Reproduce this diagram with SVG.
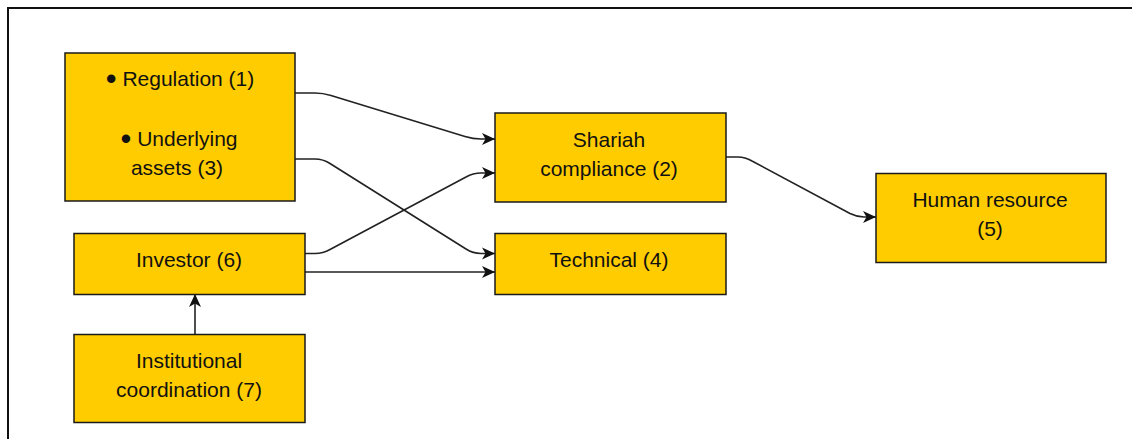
<svg xmlns="http://www.w3.org/2000/svg" width="1132" height="439" viewBox="0 0 1132 439">
<defs>
<style>
.box{fill:#FFCC00;stroke:#1a1a1a;stroke-width:1.5}
.lbl{font-family:"Liberation Sans",Arial,sans-serif;font-size:21px;fill:#111;text-anchor:middle}
.edge{fill:none;stroke:#222;stroke-width:1.6}
</style>
<marker id="arr" markerUnits="userSpaceOnUse" markerWidth="14" markerHeight="14" refX="13" refY="7" orient="auto" viewBox="0 0 14 14">
<path d="M0,1 L13,7 L0,13 L3.5,7 Z" fill="#111"/>
</marker>
</defs>
<rect x="8" y="8" width="1140" height="450" fill="#fff" stroke="#111" stroke-width="2"/>
<g id="connectors">
<path class="edge" marker-end="url(#arr)" d="M295,93 L315,93 Q323,93 331,95.5 L465,136.5 Q473,139 481,139 L495,139"/>
<path class="edge" marker-end="url(#arr)" d="M295,159 L315,159 Q323,159 330,163.5 L466,249 Q473,253.5 481,253.5 L495,253.5"/>
<path class="edge" marker-end="url(#arr)" d="M305,253.5 L315,253.5 Q323,253.5 330,249.5 L466,177 Q473,173 481,173 L495,173"/>
<path class="edge" marker-end="url(#arr)" d="M305,272 L495,272"/>
<path class="edge" marker-end="url(#arr)" d="M726,157 L738,157 Q745,157 752,161 L850,213.5 Q857,217 864,217 L876,217"/>
<path class="edge" marker-end="url(#arr)" d="M195,334 L195,294"/>
</g>
<g id="node1">
<rect class="box" x="65" y="53" width="230" height="148"/>
<text class="lbl" x="180" y="86"><tspan font-size="31" dy="3">•</tspan><tspan dy="-3"> Regulation (1)</tspan></text>
<text class="lbl" x="179" y="146"><tspan font-size="31" dy="3">•</tspan><tspan dy="-3"> Underlying</tspan></text>
<text class="lbl" x="177" y="175">assets (3)</text>
</g>
<g id="node2">
<rect class="box" x="495" y="113" width="231" height="89"/>
<text class="lbl" x="609" y="147">Shariah</text>
<text class="lbl" x="609" y="176">compliance (2)</text>
</g>
<g id="node4">
<rect class="box" x="495" y="233.5" width="231" height="61"/>
<text class="lbl" x="609" y="267">Technical (4)</text>
</g>
<g id="node5">
<rect class="box" x="876" y="173.5" width="230" height="89"/>
<text class="lbl" x="990" y="207">Human resource</text>
<text class="lbl" x="990" y="236">(5)</text>
</g>
<g id="node6">
<rect class="box" x="74" y="233.5" width="231" height="61"/>
<text class="lbl" x="189" y="267">Investor (6)</text>
</g>
<g id="node7">
<rect class="box" x="74" y="334.5" width="231" height="88"/>
<text class="lbl" x="189" y="368">Institutional</text>
<text class="lbl" x="189" y="397">coordination (7)</text>
</g>
</svg>
